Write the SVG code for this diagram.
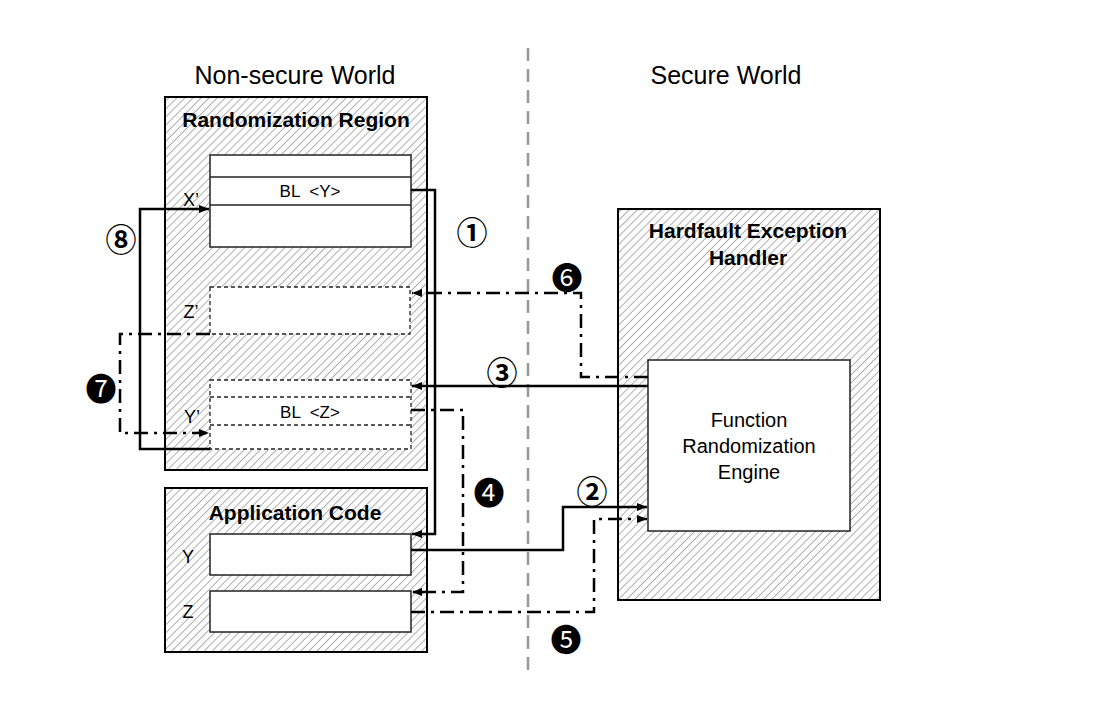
<svg xmlns="http://www.w3.org/2000/svg" width="1102" height="702" viewBox="0 0 1102 702">
<defs>
<pattern id="hatch" width="5.7" height="5.7" patternUnits="userSpaceOnUse" patternTransform="rotate(45)">
<rect width="5.7" height="5.7" fill="#fff"/>
<line x1="0" y1="0" x2="0" y2="5.7" stroke="#a2a2a2" stroke-width="1.7"/>
</pattern>
<marker id="ah" markerUnits="userSpaceOnUse" markerWidth="10" markerHeight="8" refX="10" refY="4" orient="auto">
<path d="M0,0 L10,4 L0,8 z" fill="#000"/>
</marker>
</defs>
<style>
.t{font-family:"Liberation Sans",Arial,sans-serif;fill:#000;text-anchor:middle}
.title{font-weight:bold;font-size:21px}
.world{font-size:25px}
.lbl{font-size:18px}
.bl{font-size:17px}
.eng{font-size:20px}
.outer{fill:url(#hatch);stroke:#000;stroke-width:2}
.inner{fill:#fff;stroke:#222;stroke-width:1.5}
.innerd{fill:#fff;stroke:#222;stroke-width:1.3;stroke-dasharray:4 3}
.rowd{fill:none;stroke:#222;stroke-width:1.3;stroke-dasharray:4 3}
.row{fill:none;stroke:#222;stroke-width:1.5}
.solid{fill:none;stroke:#000;stroke-width:2.5;marker-end:url(#ah)}
.dd{fill:none;stroke:#000;stroke-width:2.5;stroke-dasharray:14 6 3 6;marker-end:url(#ah)}
.num{font-family:"Noto Sans CJK JP","DejaVu Sans",sans-serif;font-size:31px;text-anchor:middle;dominant-baseline:central;fill:#000}
.ring{font-weight:bold}
</style>
<rect width="1102" height="702" fill="#fff"/>

<g id="world-labels">
<text class="t world" x="295" y="84">Non-secure World</text>
<text class="t world" x="726" y="84">Secure World</text>
</g>

<g id="divider">
<line x1="528" y1="48" x2="528" y2="672" stroke="#999" stroke-width="2.5" stroke-dasharray="13 8"/>
</g>

<g id="randomization-region">
<rect class="outer" x="165" y="97" width="262" height="373"/>
<text class="t title" x="296" y="127">Randomization Region</text>
</g>

<g id="x-prime-block">
<rect class="inner" x="210" y="155" width="201" height="92"/>
<line class="row" x1="210" y1="177" x2="411" y2="177"/>
<line class="row" x1="210" y1="205" x2="411" y2="205"/>
<text class="t bl" x="310" y="197" xml:space="preserve">BL  &lt;Y&gt;</text>
<text class="t lbl" x="191" y="206">X’</text>
</g>

<g id="z-prime-block">
<rect class="innerd" x="210" y="287" width="200" height="47"/>
<text class="t lbl" x="191" y="318">Z’</text>
</g>

<g id="y-prime-block">
<rect class="innerd" x="210" y="380" width="201" height="69"/>
<line class="rowd" x1="210" y1="397" x2="411" y2="397"/>
<line class="rowd" x1="210" y1="425" x2="411" y2="425"/>
<text class="t bl" x="310" y="418" xml:space="preserve">BL  &lt;Z&gt;</text>
<text class="t lbl" x="192" y="423">Y’</text>
</g>

<g id="application-code">
<rect class="outer" x="165" y="488" width="262" height="164"/>
<text class="t title" x="295" y="520">Application Code</text>
</g>

<g id="y-block">
<rect class="inner" x="210" y="534" width="201" height="41"/>
<text class="t lbl" x="188" y="563">Y</text>
</g>

<g id="z-block">
<rect class="inner" x="210" y="591" width="201" height="41"/>
<text class="t lbl" x="188" y="618">Z</text>
</g>

<g id="hardfault-handler">
<rect class="outer" x="618" y="209" width="262" height="391"/>
<text class="t title" x="748" y="238">Hardfault Exception</text>
<text class="t title" x="748" y="265">Handler</text>
</g>

<g id="randomization-engine">
<rect class="inner" x="648" y="360" width="202" height="171"/>
<text class="t eng" x="749" y="427">Function</text>
<text class="t eng" x="749" y="453">Randomization</text>
<text class="t eng" x="749" y="479">Engine</text>
</g>

<g id="connectors">
<path class="solid" d="M411,190 H435 V534 H412"/>
<path class="solid" d="M411,550 H563 V507 H647"/>
<path class="solid" d="M648,386 H412"/>
<path class="dd" d="M411,410 H463 V592 H412"/>
<path class="dd" d="M411,612 H594 V519 H647"/>
<path class="dd" d="M648,377 H581 V293 H412"/>
<path class="dd" d="M210,334 H120 V433 H209"/>
<path class="solid" d="M210,449 H140 V209 H209"/>
</g>

<g id="step-labels">
<text class="num ring" x="472" y="230">①</text>
<text class="num ring" x="592" y="489">②</text>
<text class="num ring" x="502" y="370">③</text>
<text class="num" x="489" y="490">❹</text>
<text class="num" x="566" y="637">❺</text>
<text class="num" x="567" y="275">❻</text>
<text class="num" x="101" y="386">❼</text>
<text class="num ring" x="121" y="237">⑧</text>
</g>
</svg>
